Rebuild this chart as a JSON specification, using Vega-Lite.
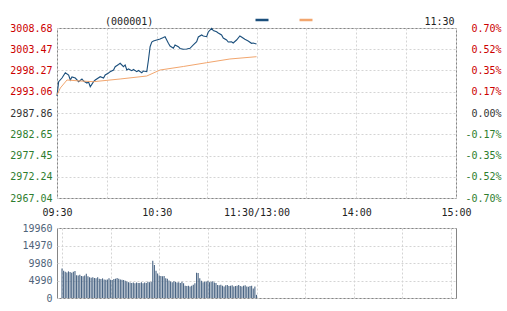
{
  "$schema": "https://vega.github.io/schema/vega-lite/v6.json",
  "background": "white",
  "padding": {"left": 9, "top": 12, "right": 5, "bottom": 5},
  "spacing": 30,
  "bounds": "flush",
  "datasets": {
    "px": [
      {"m":0,"p":2992.02,"s":"price"},{"m":1,"p":2995.53,"s":"price"},{"m":3,"p":2996.43,"s":"price"},{"m":5,"p":2997.73,"s":"price"},
      {"m":7,"p":2997.17,"s":"price"},{"m":8,"p":2995.94,"s":"price"},{"m":9,"p":2996.68,"s":"price"},{"m":11,"p":2996.43,"s":"price"},
      {"m":13,"p":2995.53,"s":"price"},{"m":15,"p":2996.19,"s":"price"},{"m":16,"p":2995.70,"s":"price"},{"m":18,"p":2995.21,"s":"price"},
      {"m":19,"p":2995.45,"s":"price"},{"m":20,"p":2994.30,"s":"price"},{"m":22,"p":2995.53,"s":"price"},{"m":23,"p":2995.94,"s":"price"},
      {"m":26,"p":2996.75,"s":"price"},{"m":28,"p":2996.43,"s":"price"},{"m":29,"p":2997.17,"s":"price"},{"m":31,"p":2997.66,"s":"price"},
      {"m":32,"p":2997.98,"s":"price"},{"m":34,"p":2998.39,"s":"price"},{"m":35,"p":2999.20,"s":"price"},{"m":37,"p":2999.74,"s":"price"},
      {"m":38,"p":3000.03,"s":"price"},{"m":40,"p":2999.20,"s":"price"},{"m":41,"p":2999.62,"s":"price"},{"m":42,"p":2998.39,"s":"price"},
      {"m":43,"p":2998.64,"s":"price"},{"m":45,"p":2998.22,"s":"price"},{"m":46,"p":2998.52,"s":"price"},{"m":48,"p":2997.98,"s":"price"},
      {"m":49,"p":2998.27,"s":"price"},{"m":51,"p":2997.73,"s":"price"},{"m":52,"p":2998.15,"s":"price"},{"m":54,"p":2997.98,"s":"price"},
      {"m":55,"p":3000.84,"s":"price"},{"m":56,"p":3004.10,"s":"price"},{"m":57,"p":3005.25,"s":"price"},{"m":58,"p":3005.50,"s":"price"},
      {"m":60,"p":3005.74,"s":"price"},{"m":62,"p":3005.99,"s":"price"},{"m":64,"p":3006.35,"s":"price"},{"m":65,"p":3006.55,"s":"price"},
      {"m":67,"p":3004.93,"s":"price"},{"m":68,"p":3004.27,"s":"price"},{"m":70,"p":3003.71,"s":"price"},{"m":71,"p":3004.52,"s":"price"},
      {"m":73,"p":3004.10,"s":"price"},{"m":74,"p":3003.66,"s":"price"},{"m":76,"p":3003.46,"s":"price"},{"m":78,"p":3003.54,"s":"price"},
      {"m":80,"p":3003.71,"s":"price"},{"m":82,"p":3004.52,"s":"price"},{"m":84,"p":3005.32,"s":"price"},{"m":85,"p":3006.48,"s":"price"},
      {"m":87,"p":3006.97,"s":"price"},{"m":88,"p":3006.72,"s":"price"},{"m":90,"p":3006.55,"s":"price"},{"m":91,"p":3007.70,"s":"price"},
      {"m":93,"p":3008.61,"s":"price"},{"m":94,"p":3008.07,"s":"price"},{"m":96,"p":3007.77,"s":"price"},{"m":97,"p":3007.46,"s":"price"},
      {"m":99,"p":3006.97,"s":"price"},{"m":100,"p":3006.23,"s":"price"},{"m":102,"p":3005.74,"s":"price"},{"m":103,"p":3005.25,"s":"price"},
      {"m":105,"p":3005.32,"s":"price"},{"m":106,"p":3005.01,"s":"price"},{"m":108,"p":3005.74,"s":"price"},{"m":110,"p":3006.72,"s":"price"},
      {"m":111,"p":3006.48,"s":"price"},{"m":113,"p":3005.91,"s":"price"},{"m":115,"p":3005.50,"s":"price"},{"m":117,"p":3004.93,"s":"price"},
      {"m":118,"p":3005.01,"s":"price"},{"m":120,"p":3004.76,"s":"price"}
    ],
    "avg": [
      {"m":0,"p":2992.27,"s":"avg"},{"m":2,"p":2993.98,"s":"avg"},{"m":6,"p":2995.94,"s":"avg"},{"m":14,"p":2995.70,"s":"avg"},
      {"m":22,"p":2995.53,"s":"avg"},{"m":38,"p":2996.19,"s":"avg"},{"m":54,"p":2996.92,"s":"avg"},{"m":62,"p":2998.39,"s":"avg"},
      {"m":76,"p":2999.25,"s":"avg"},{"m":90,"p":3000.18,"s":"avg"},{"m":104,"p":3001.09,"s":"avg"},{"m":120,"p":3001.65,"s":"avg"}
    ],
    "hdr": [
      {"m":43.4,"p":3010.2,"t":"(000001)"},
      {"m":230.1,"p":3010.2,"t":"11:30"}
    ],
    "vol": [
      {"m":0,"v":8400},{"m":1,"v":7800},{"m":2,"v":7500},{"m":3,"v":7300},{"m":4,"v":7600},{"m":5,"v":7400},{"m":6,"v":7200},{"m":7,"v":7500},
      {"m":8,"v":7700},{"m":9,"v":6500},{"m":10,"v":6400},{"m":11,"v":6600},{"m":12,"v":6300},{"m":13,"v":6200},{"m":14,"v":6400},{"m":15,"v":6900},
      {"m":16,"v":6200},{"m":17,"v":5900},{"m":18,"v":5800},{"m":19,"v":5900},{"m":20,"v":5700},{"m":21,"v":5600},{"m":22,"v":5900},{"m":23,"v":5500},
      {"m":24,"v":5400},{"m":25,"v":5600},{"m":26,"v":5300},{"m":27,"v":5200},{"m":28,"v":5300},{"m":29,"v":5600},{"m":30,"v":5200},{"m":31,"v":5100},
      {"m":32,"v":5400},{"m":33,"v":5500},{"m":34,"v":5700},{"m":35,"v":5500},{"m":36,"v":5300},{"m":37,"v":5200},{"m":38,"v":5100},{"m":39,"v":4900},
      {"m":40,"v":4700},{"m":41,"v":4500},{"m":42,"v":4400},{"m":43,"v":4300},{"m":44,"v":4400},{"m":45,"v":4200},{"m":46,"v":4400},{"m":47,"v":4300},
      {"m":48,"v":4300},{"m":49,"v":4500},{"m":50,"v":4200},{"m":51,"v":4400},{"m":52,"v":4300},{"m":53,"v":4600},{"m":54,"v":4500},{"m":55,"v":4600},
      {"m":56,"v":10600},{"m":57,"v":9400},{"m":58,"v":7800},{"m":59,"v":7000},{"m":60,"v":6400},{"m":61,"v":6300},{"m":62,"v":6200},{"m":63,"v":6300},
      {"m":64,"v":5600},{"m":65,"v":5500},{"m":66,"v":5000},{"m":67,"v":4700},{"m":68,"v":4500},{"m":69,"v":4800},{"m":70,"v":4600},{"m":71,"v":4400},
      {"m":72,"v":4500},{"m":73,"v":4300},{"m":74,"v":4600},{"m":75,"v":4200},{"m":76,"v":3500},{"m":77,"v":3400},{"m":78,"v":3500},{"m":79,"v":3300},
      {"m":80,"v":3500},{"m":81,"v":3800},{"m":82,"v":4200},{"m":83,"v":7200},{"m":84,"v":7100},{"m":85,"v":5600},{"m":86,"v":4900},{"m":87,"v":4500},
      {"m":88,"v":4700},{"m":89,"v":4600},{"m":90,"v":4900},{"m":91,"v":4500},{"m":92,"v":4600},{"m":93,"v":4800},{"m":94,"v":4400},{"m":95,"v":4300},
      {"m":96,"v":3700},{"m":97,"v":3600},{"m":98,"v":3800},{"m":99,"v":3500},{"m":100,"v":3300},{"m":101,"v":3600},{"m":102,"v":3700},{"m":103,"v":3400},
      {"m":104,"v":3500},{"m":105,"v":3600},{"m":106,"v":3300},{"m":107,"v":3400},{"m":108,"v":3500},{"m":109,"v":3700},{"m":110,"v":3400},{"m":111,"v":3300},
      {"m":112,"v":3500},{"m":113,"v":3600},{"m":114,"v":3300},{"m":115,"v":3200},{"m":116,"v":3400},{"m":117,"v":3500},{"m":118,"v":2700},{"m":119,"v":3300},
      {"m":120,"v":900}
    ]
  },
  "vconcat": [
    {
      "width": 399,
      "height": 170,
      "resolve": {"axis": {"y": "independent"}},
      "layer": [
        {
          "data": {"name": "px"},
          "mark": {"type": "line", "strokeWidth": 1.1, "interpolate": "linear"},
          "encoding": {
            "x": {"field": "m", "type": "quantitative",
              "scale": {"domain": [0, 240], "nice": false, "zero": false},
              "axis": {"title": null, "values": [0,30,60,90,120,150,180,210,240], "grid": true,
                "labelExpr": "datum.value==0?'09:30':datum.value==60?'10:30':datum.value==120?'11:30/13:00':datum.value==180?'14:00':datum.value==240?'15:00':''",
                "labelPadding": 9, "labelColor": "#222", "labelOverlap": false, "labelFlush": false}},
            "y": {"field": "p", "type": "quantitative",
              "scale": {"domain": [2967.04, 3008.68], "nice": false, "zero": false},
              "axis": {"title": null, "orient": "left", "grid": true, "format": ".2f",
                "values": [2967.04, 2972.24, 2977.45, 2982.65, 2987.86, 2993.06, 2998.27, 3003.47, 3008.68],
                "labelPadding": 5, "labelOverlap": false, "labelFlush": false,
                "labelColor": {"condition": [{"test": "datum.value > 2988", "value": "#cc0000"}, {"test": "datum.value < 2987", "value": "#2e7d2e"}], "value": "#333333"}}},
            "color": {"field": "s", "type": "nominal",
              "scale": {"domain": ["price", "avg"], "range": ["#1b4f7c", "#f2a66e"]},
              "legend": {"orient": "none", "legendX": 197, "legendY": -16, "direction": "horizontal", "title": null,
                "symbolType": "stroke", "symbolSize": 169, "symbolStrokeWidth": 2.5, "labelExpr": "''", "labelOffset": 0, "columnPadding": 20, "padding": 0}}
          }
        },
        {
          "data": {"name": "avg"},
          "mark": {"type": "line", "strokeWidth": 1},
          "encoding": {
            "x": {"field": "m", "type": "quantitative"},
            "y": {"field": "p", "type": "quantitative",
              "axis": {"title": null, "orient": "right", "grid": false,
                "values": [2967.04, 2972.24, 2977.45, 2982.65, 2987.86, 2993.06, 2998.27, 3003.47, 3008.68],
                "labelExpr": "(datum.value < 2987.5 ? '-' : '') + format(abs((datum.value - 2987.86) / 2987.86 * 100), '.2f') + '%'",
                "labelAlign": "right", "labelPadding": 45, "labelOverlap": false, "labelFlush": false,
                "labelColor": {"condition": [{"test": "datum.value > 2988", "value": "#cc0000"}, {"test": "datum.value < 2987", "value": "#2e7d2e"}], "value": "#333333"}}},
            "color": {"field": "s", "type": "nominal"}
          }
        },
        {
          "data": {"name": "hdr"},
          "mark": {"type": "text", "baseline": "middle", "align": "center", "fontSize": 10, "color": "#222"},
          "encoding": {
            "x": {"field": "m", "type": "quantitative"},
            "y": {"field": "p", "type": "quantitative", "axis": null},
            "text": {"field": "t"}
          }
        }
      ]
    },
    {
      "width": 399,
      "height": 70,
      "data": {"name": "vol"},
      "mark": {"type": "bar", "width": 1.1, "color": "#4a6584"},
      "encoding": {
        "x": {"field": "m", "type": "quantitative",
          "scale": {"domain": [0, 240], "nice": false, "zero": false},
          "axis": {"title": null, "values": [0,30,60,90,120,150,180,210,240], "grid": true, "labels": false}},
        "y": {"field": "v", "type": "quantitative",
          "scale": {"domain": [0, 19960], "nice": false},
          "axis": {"title": null, "grid": true, "values": [0, 4990, 9980, 14970, 19960], "format": "d",
            "labelPadding": 5, "labelColor": "#50647a", "labelOverlap": false, "labelFlush": false}}
      }
    }
  ],
  "config": {
    "font": "DejaVu Sans Mono",
    "view": {"stroke": "#858585", "strokeWidth": 1},
    "axis": {"labelFont": "DejaVu Sans Mono", "labelFontSize": 10, "domain": false, "ticks": false,
      "gridColor": "#d4d4d4", "gridDash": [2, 2], "gridWidth": 1},
    "legend": {"labelFontSize": 1}
  }
}
